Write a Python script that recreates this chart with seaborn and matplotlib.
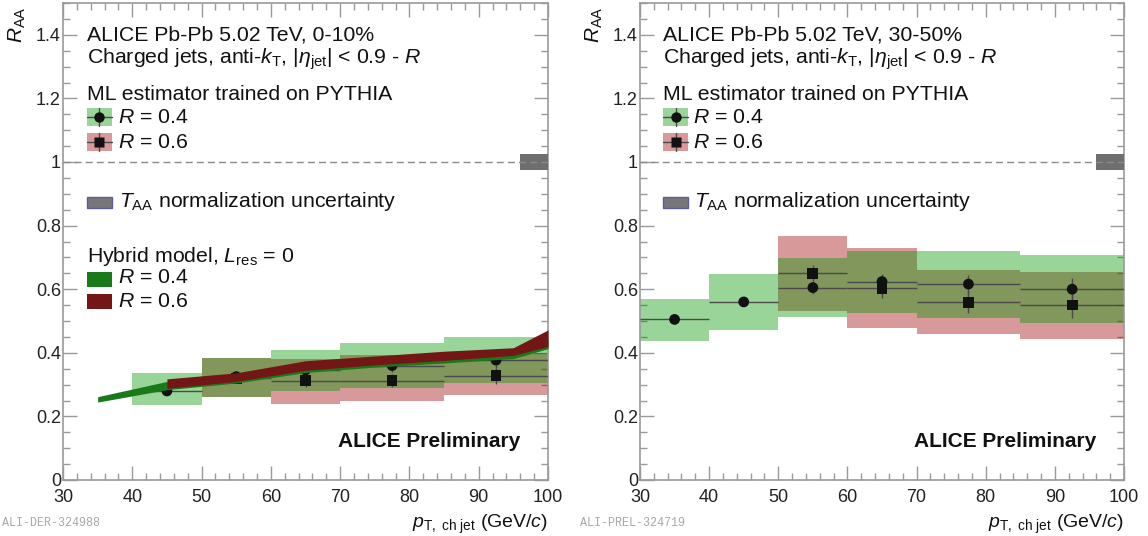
import numpy as np
import pandas as pd
import matplotlib
matplotlib.use("Agg")
import matplotlib.pyplot as plt
from matplotlib.patches import Rectangle
from matplotlib.ticker import MultipleLocator, FuncFormatter
import seaborn as sns

# ---------------- data ----------------
# 0-10% centrality
c010_r04_lo_edge = [40, 50, 60, 70, 85]
c010_r04_hi_edge = [50, 60, 70, 85, 100]
c010_r04_pt = [45, 55, 65, 77.5, 92.5]
c010_r04_raa = [0.28, 0.325, 0.346, 0.36, 0.377]
c010_r04_stat = [0.012, 0.015, 0.02, 0.02, 0.025]
c010_r04_syslo = [0.235, 0.26, 0.281, 0.29, 0.306]
c010_r04_syshi = [0.335, 0.385, 0.409, 0.43, 0.45]

c010_r06_lo_edge = [50, 60, 70, 85]
c010_r06_hi_edge = [60, 70, 85, 100]
c010_r06_pt = [55, 65, 77.5, 92.5]
c010_r06_raa = [0.32, 0.312, 0.312, 0.328]
c010_r06_stat = [0.015, 0.02, 0.02, 0.025]
c010_r06_syslo = [0.26, 0.238, 0.249, 0.267]
c010_r06_syshi = [0.385, 0.38, 0.393, 0.40]

# Hybrid model, L_res = 0 (0-10%)
hyb_r04_pt = [35, 45, 55, 65, 75, 85, 95, 100]
hyb_r04_lo = [0.245, 0.284, 0.305, 0.338, 0.355, 0.368, 0.382, 0.413]
hyb_r04_hi = [0.262, 0.31, 0.33, 0.365, 0.383, 0.395, 0.405, 0.44]
hyb_r06_pt = [45, 55, 65, 75, 85, 95, 100]
hyb_r06_lo = [0.288, 0.31, 0.345, 0.362, 0.376, 0.392, 0.42]
hyb_r06_hi = [0.318, 0.337, 0.375, 0.39, 0.405, 0.416, 0.472]

# 30-50% centrality
c3050_r04_lo_edge = [30, 40, 50, 60, 70, 85]
c3050_r04_hi_edge = [40, 50, 60, 70, 85, 100]
c3050_r04_pt = [35, 45, 55, 65, 77.5, 92.5]
c3050_r04_raa = [0.505, 0.56, 0.605, 0.624, 0.616, 0.60]
c3050_r04_stat = [0.01, 0.01, 0.02, 0.025, 0.03, 0.035]
c3050_r04_syslo = [0.438, 0.472, 0.512, 0.524, 0.51, 0.493]
c3050_r04_syshi = [0.569, 0.648, 0.698, 0.72, 0.72, 0.708]

c3050_r06_lo_edge = [50, 60, 70, 85]
c3050_r06_hi_edge = [60, 70, 85, 100]
c3050_r06_pt = [55, 65, 77.5, 92.5]
c3050_r06_raa = [0.65, 0.603, 0.559, 0.55]
c3050_r06_stat = [0.025, 0.03, 0.035, 0.04]
c3050_r06_syslo = [0.531, 0.477, 0.458, 0.444]
c3050_r06_syshi = [0.767, 0.729, 0.66, 0.655]

# T_AA normalization uncertainty box
taa_lo_edge = 96
taa_hi_edge = 100
taa_unc = 0.025

x_ticks = [30, 40, 50, 60, 70, 80, 90, 100]
y_ticks = [0, 0.2, 0.4, 0.6, 0.8, 1, 1.2, 1.4]

# ---------------- style ----------------
sns.set_theme(style="ticks")
plt.rcParams["font.family"] = ["Liberation Sans", "DejaVu Sans"]
plt.rcParams["mathtext.fontset"] = "custom"
plt.rcParams["mathtext.rm"] = "Liberation Sans"
plt.rcParams["mathtext.it"] = "Liberation Sans:italic"
plt.rcParams["mathtext.bf"] = "Liberation Sans:bold"

GREEN_BOX = "#009600"
RED_BOX = "#9d0000"
BOX_ALPHA = 0.4
GREEN_MODEL = "#1a7a1a"
RED_MODEL = "#731616"
MARK = "#111111"
ELINE = "#4a4a4a"
TXT = 15.3

W, H = 1148, 536
fig = plt.figure(figsize=(W / 100, H / 100), dpi=100)
ax1 = fig.add_axes([63 / W, 56 / H, 485 / W, 477 / H])
ax2 = fig.add_axes([640 / W, 56 / H, 484 / W, 477 / H])


def draw_series(ax, lo_e, hi_e, pt, raa, stat, slo, shi, color, marker, z):
    lo_e = np.array(lo_e, float)
    hi_e = np.array(hi_e, float)
    slo = np.array(slo, float)
    shi = np.array(shi, float)
    ax.bar(lo_e, shi - slo, width=hi_e - lo_e, bottom=slo, align="edge",
           color=color, alpha=BOX_ALPHA, linewidth=0, zorder=z)
    pt = np.array(pt, float)
    ax.errorbar(pt, raa, yerr=stat, xerr=[pt - lo_e, hi_e - pt], fmt="none",
                ecolor=ELINE, elinewidth=1.0, capsize=0, zorder=3)
    df = pd.DataFrame({"pt": pt, "raa": raa})
    sns.scatterplot(data=df, x="pt", y="raa", ax=ax, marker=marker, s=60,
                    color=MARK, edgecolor="none", linewidth=0, zorder=4,
                    legend=False)


def style_axes(ax):
    ax.set_xlim(30, 100)
    ax.set_ylim(0, 1.5)
    ax.set_xticks(x_ticks)
    ax.set_yticks(y_ticks)
    ax.xaxis.set_minor_locator(MultipleLocator(2))
    ax.yaxis.set_minor_locator(MultipleLocator(0.05))
    ax.yaxis.set_major_formatter(FuncFormatter(lambda v, p: "%g" % v))
    ax.tick_params(which="both", direction="in", top=True, right=True,
                   color="#999999", width=1.0, labelsize=13,
                   labelcolor="#222222")
    ax.tick_params(which="major", length=10)
    ax.tick_params(which="minor", length=5)
    ax.tick_params(axis="x", pad=6.5)
    ax.tick_params(axis="y", pad=1.5)
    for s in ax.spines.values():
        s.set_color("#999999")
        s.set_linewidth(1.2)
    ax.set_xlabel("")
    ax.set_ylabel("")
    ax.grid(False)
    # T_AA box and unity line
    ax.bar([taa_lo_edge], [2 * taa_unc], width=taa_hi_edge - taa_lo_edge,
           bottom=1 - taa_unc, align="edge", color="#6f6f6f", linewidth=0,
           zorder=5)
    ax.axhline(1.0, color="#8a8a8a", lw=1.0, ls=(0, (5, 3)), zorder=6)
    ax.text(1.0, -0.1006, r"$p_{\mathrm{T,\ ch\ jet}}$ (GeV/$c$)",
            transform=ax.transAxes, ha="right", va="baseline", fontsize=14,
            color="#111111")


def ml_glyph(ax, x0, x1, yc, h, color, marker):
    tr = ax.transAxes
    ax.add_patch(Rectangle((x0, yc - h / 2), x1 - x0, h, transform=tr,
                           facecolor=color, alpha=BOX_ALPHA, lw=0, zorder=8))
    xm = 0.5 * (x0 + x1)
    ax.plot([x0, x1], [yc, yc], transform=tr, color=ELINE, lw=1, zorder=9)
    ax.plot([xm, xm], [yc - h / 2, yc + h / 2], transform=tr, color=ELINE,
            lw=1, zorder=9)
    ax.plot([xm], [yc], transform=tr, marker=marker, ms=7.5, color=MARK,
            mec="none", zorder=10, clip_on=False)


def box_glyph(ax, x0, x1, yc, h, fc, ec=None):
    ax.add_patch(Rectangle((x0, yc - h / 2), x1 - x0, h, transform=ax.transAxes,
                           facecolor=fc, edgecolor=ec if ec else "none",
                           lw=1.0 if ec else 0, zorder=8))


# ---------------- left panel (0-10%) ----------------
draw_series(ax1, c010_r06_lo_edge, c010_r06_hi_edge, c010_r06_pt, c010_r06_raa,
            c010_r06_stat, c010_r06_syslo, c010_r06_syshi, RED_BOX, "s", 1)
draw_series(ax1, c010_r04_lo_edge, c010_r04_hi_edge, c010_r04_pt, c010_r04_raa,
            c010_r04_stat, c010_r04_syslo, c010_r04_syshi, GREEN_BOX, "o", 2)
ax1.fill_between(hyb_r04_pt, hyb_r04_lo, hyb_r04_hi, color=GREEN_MODEL,
                 linewidth=0, zorder=5)
ax1.fill_between(hyb_r06_pt, hyb_r06_lo, hyb_r06_hi, color=RED_MODEL,
                 linewidth=0, zorder=5.5)
style_axes(ax1)

# ---------------- right panel (30-50%) ----------------
draw_series(ax2, c3050_r06_lo_edge, c3050_r06_hi_edge, c3050_r06_pt, c3050_r06_raa,
            c3050_r06_stat, c3050_r06_syslo, c3050_r06_syshi, RED_BOX, "s", 1)
draw_series(ax2, c3050_r04_lo_edge, c3050_r04_hi_edge, c3050_r04_pt, c3050_r04_raa,
            c3050_r04_stat, c3050_r04_syslo, c3050_r04_syshi, GREEN_BOX, "o", 2)
style_axes(ax2)

# ---------------- legends / texts ----------------
eta_line = r"Charged jets, anti-$k_{\mathrm{T}}$, |$\eta_{\mathrm{jet}}$| < 0.9 - $R$"
for ax, cent, gx0, gx1, tx, rtx in [
    (ax1, "0-10%", 0.0495, 0.101, 0.0495, 0.1134),
    (ax2, "30-50%", 0.0475, 0.0992, 0.0475, 0.1095),
]:
    tr = ax.transAxes
    ax.text(tx, 0.922, "ALICE Pb-Pb 5.02 TeV, " + cent, transform=tr,
            fontsize=TXT, va="baseline", color="#111111", zorder=10)
    ax.text(tx, 0.872, eta_line, transform=tr, fontsize=TXT, va="baseline",
            color="#111111", zorder=10)
    ax.text(tx, 0.797, "ML estimator trained on PYTHIA", transform=tr,
            fontsize=TXT, va="baseline", color="#111111", zorder=10)
    ml_glyph(ax, gx0, gx1, 0.761, 0.0377, GREEN_BOX, "o")
    ax.text(rtx, 0.748, r"$R$ = 0.4", transform=tr, fontsize=TXT,
            va="baseline", color="#111111", zorder=10)
    ml_glyph(ax, gx0, gx1, 0.709, 0.0377, RED_BOX, "s")
    ax.text(rtx, 0.696, r"$R$ = 0.6", transform=tr, fontsize=TXT,
            va="baseline", color="#111111", zorder=10)
    box_glyph(ax, gx0, gx1, 0.582, 0.023, "#777777", "#5a5aa0")
    ax.text(rtx + 0.002, 0.572, r"$T_{\mathrm{AA}}$ normalization uncertainty",
            transform=tr, fontsize=TXT, va="baseline", color="#111111",
            zorder=10)
    ax.text(0.943, 0.081, "ALICE Preliminary", transform=tr, fontsize=15,
            fontweight="bold", ha="right", va="center", color="#111111",
            zorder=10)

tr = ax1.transAxes
ax1.text(0.0495, 0.457, r"Hybrid model, $L_{\mathrm{res}}$ = 0", transform=tr,
         fontsize=TXT, va="baseline", color="#111111", zorder=10)
box_glyph(ax1, 0.0495, 0.101, 0.420, 0.0314, GREEN_MODEL)
ax1.text(0.1134, 0.413, r"$R$ = 0.4", transform=tr, fontsize=TXT,
         va="baseline", color="#111111", zorder=10)
box_glyph(ax1, 0.0495, 0.101, 0.374, 0.0314, RED_MODEL)
ax1.text(0.1134, 0.363, r"$R$ = 0.6", transform=tr, fontsize=TXT,
         va="baseline", color="#111111", zorder=10)

# y-axis titles
for xpx in (17, 594):
    fig.text(xpx / W, 1 - 6 / H, r"$R_{\mathrm{AA}}$", rotation=90,
             ha="center", va="top", fontsize=15, color="#111111")

# figure IDs
fig.text(2 / W, 1 - 526 / H, "ALI-DER-324988", family="Liberation Mono",
         fontsize=8.5, color="#a8a8a8", va="baseline")
fig.text(580 / W, 1 - 526 / H, "ALI-PREL-324719", family="Liberation Mono",
         fontsize=8.5, color="#a8a8a8", va="baseline")

fig.savefig("out.png", dpi=100)
